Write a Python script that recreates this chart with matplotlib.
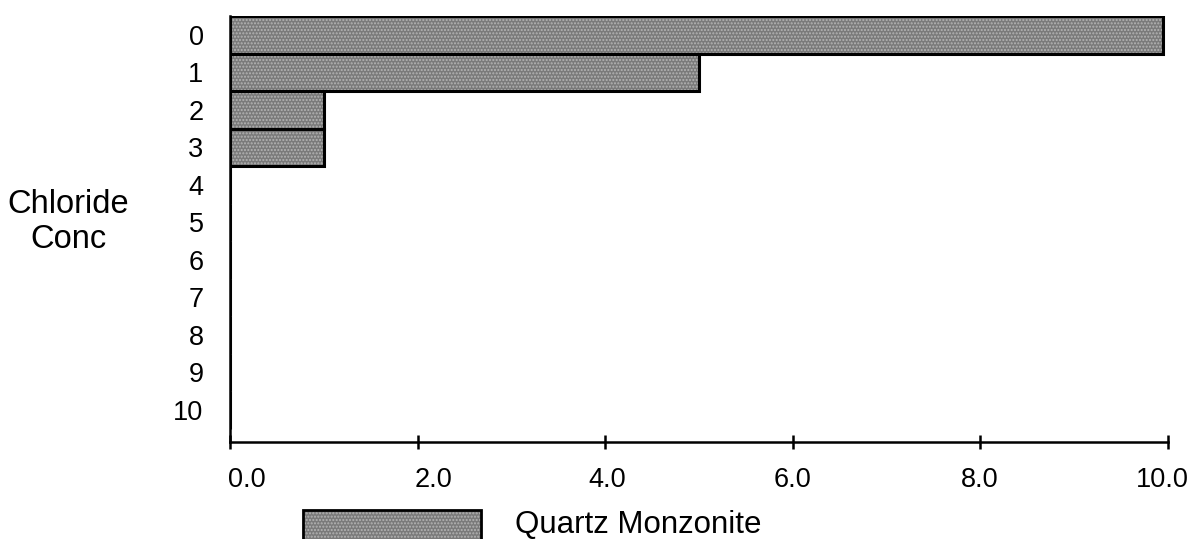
import matplotlib
matplotlib.use("Agg")
import matplotlib.pyplot as plt
from matplotlib.patches import Rectangle
from matplotlib.transforms import ScaledTranslation

plt.rcParams['font.family'] = ['Liberation Sans', 'DejaVu Sans']
plt.rcParams['hatch.linewidth'] = 1.0

# Data
categories = list(range(11))
category_labels = [str(c) for c in categories]
values = [9.95, 5.0, 1.0, 1.0, 0, 0, 0, 0, 0, 0, 0]
x_ticks = [0, 2, 4, 6, 8, 10]
x_tick_labels = ["0.0", "2.0", "4.0", "6.0", "8.0", "10.0"]
series_name = "Quartz Monzonite"
y_title = "Chloride\nConc"

W, H = 1191, 539
fig = plt.figure(figsize=(W / 100, H / 100), dpi=100)
ax = fig.add_axes([230 / W, (H - 442) / H, (1168 - 230) / W, (442 - 16) / H])

face = '#7a7a7a'
dots = '#b4b4b4'

ax.barh(categories, values, height=1.0, color=face, edgecolor=dots,
        linewidth=0, hatch='.....')
ax.barh(categories, values, height=1.0, fill=False, edgecolor='black',
        linewidth=2.2)

ax.set_xlim(0, 10)
ax.set_ylim(10.86, -0.5)

for s in ['top', 'right']:
    ax.spines[s].set_visible(False)
ax.spines['left'].set_linewidth(1.8)
ax.spines['bottom'].set_linewidth(1.8)

ax.set_yticks(categories)
ax.set_yticklabels(category_labels, fontsize=19.5)
ax.tick_params(axis='y', length=0, pad=19)

ax.set_xticks(x_ticks)
ax.set_xticklabels(x_tick_labels, fontsize=19.5)
ax.tick_params(axis='x', direction='inout', length=10, width=1.8, pad=13)

# small per-label horizontal shifts as in the reference rendering
shifts_px = [17, 16, 2, 0, -1, -6]
for lab, dx in zip(ax.get_xticklabels(), shifts_px):
    lab.set_transform(lab.get_transform() + ScaledTranslation(dx / 100, 0, fig.dpi_scale_trans))

fig.text(68 / W, 1 - 222 / H, y_title, ha='center', va='center',
         multialignment='center', fontsize=23.5, linespacing=1.2)

# Legend
x0, x1, y0, y1 = 303, 481, 510, 548
r1 = Rectangle((x0 / W, 1 - y1 / H), (x1 - x0) / W, (y1 - y0) / H,
               transform=fig.transFigure, facecolor=face, edgecolor=dots,
               linewidth=0, hatch='.....')
r2 = Rectangle((x0 / W, 1 - y1 / H), (x1 - x0) / W, (y1 - y0) / H,
               transform=fig.transFigure, fill=False, edgecolor='black',
               linewidth=2.0)
fig.add_artist(r1)
fig.add_artist(r2)
fig.text(515 / W, 1 - 533 / H, series_name, ha='left', va='baseline', fontsize=22.5)

fig.savefig("out.png", dpi=100)
